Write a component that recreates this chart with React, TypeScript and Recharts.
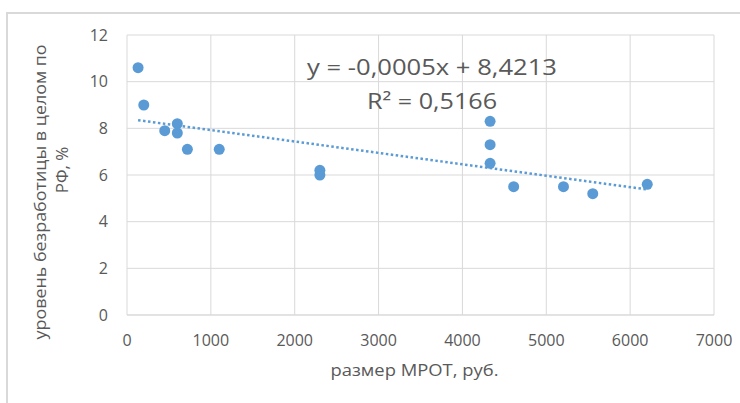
import { ScatterChart, Scatter, XAxis, YAxis, CartesianGrid } from 'recharts';

// размер МРОТ, руб. / уровень безработицы, %
const mrot = [132, 200, 450, 600, 600, 720, 1100, 2300, 2300, 4330, 4330, 4330, 4611, 5205, 5554, 6204];
const unemployment = [10.6, 9.0, 7.9, 8.2, 7.8, 7.1, 7.1, 6.2, 6.0, 8.3, 7.3, 6.5, 5.5, 5.5, 5.2, 5.6];

// линия тренда (концы)
const trendX = [132, 6204];
const trendY = [8.35, 5.38];

const xTicks = [0, 1000, 2000, 3000, 4000, 5000, 6000, 7000];
const yTicks = [0, 2, 4, 6, 8, 10, 12];

const equation = 'y = -0,0005x + 8,4213';
const rSquared = 'R² = 0,5166';

const points = mrot.map((x, i) => ({ x, y: unemployment[i] }));
const trend = trendX.map((x, i) => ({ x, y: trendY[i] }));

const FONT = "'Open Sans', 'Liberation Sans', sans-serif";
const GREY = '#595959';
const BLUE = '#5B9BD5';

const YTitle = (props: any) => {
  const { viewBox } = props;
  const cy = viewBox.y + viewBox.height / 2;
  return (
    <g fill={GREY} fontFamily={FONT} fontSize={17}>
      <text x={0} y={0} transform={`translate(46, ${cy + 17}) rotate(-90)`} textAnchor="middle"
        textLength={295} lengthAdjust="spacingAndGlyphs">
        уровень безработицы в целом по
      </text>
      <text x={0} y={0} transform={`translate(68, ${cy - 5}) rotate(-90)`} textAnchor="middle">
        РФ, %
      </text>
    </g>
  );
};

const XTitle = (props: any) => {
  const { viewBox } = props;
  const cx = viewBox.x + viewBox.width / 2;
  return (
    <text x={cx - 6} y={376} textAnchor="middle" fill={GREY} fontFamily={FONT} fontSize={17}
      textLength={168} lengthAdjust="spacingAndGlyphs">
      размер МРОТ, руб.
    </text>
  );
};

export default function App() {
  return (
    <div style={{ position: 'absolute', left: 0, top: 0, width: 740, height: 403, background: '#fff' }}>
      <div style={{
        position: 'absolute', left: 6, top: 12, right: 0, bottom: 0,
        borderTop: '2px solid #d9d9d9', borderLeft: '2px solid #d9d9d9',
      }} />
      <ScatterChart width={740} height={403} margin={{ top: 35, right: 26, bottom: 0, left: 0 }}
        style={{ position: 'absolute', left: 0, top: 0 }}>
        <CartesianGrid stroke="#d9d9d9" strokeWidth={1} />
        <XAxis type="number" dataKey="x" domain={[0, 7000]} ticks={xTicks} height={88}
          axisLine={{ stroke: '#d9d9d9' }} tickLine={false} tickSize={0} tickMargin={20}
          tick={{ fill: GREY, fontSize: 16, fontFamily: FONT }} interval={0}
          label={<XTitle />} />
        <YAxis type="number" dataKey="y" domain={[0, 12]} ticks={yTicks} width={127}
          axisLine={false} tickLine={false} tickSize={0} tickMargin={19}
          tick={{ fill: GREY, fontSize: 16, fontFamily: FONT }} interval={0}
          label={<YTitle />} />
        <Scatter data={points} fill={BLUE} isAnimationActive={false}
          shape={(p: any) => <circle cx={p.cx} cy={p.cy} r={5.5} fill={BLUE} />} />
        <Scatter data={trend} line={{ stroke: BLUE, strokeWidth: 2.5, strokeDasharray: '2.5 2.5' }}
          shape={() => null} isAnimationActive={false} />
      </ScatterChart>
      <svg width={740} height={403} style={{ position: 'absolute', left: 0, top: 0, pointerEvents: 'none' }}>
        <g fill={GREY} fontFamily={FONT} fontSize={21}>
          <text x={432} y={75} textAnchor="middle" textLength={250} lengthAdjust="spacingAndGlyphs">{equation}</text>
          <text x={432} y={109} textAnchor="middle" textLength={130} lengthAdjust="spacingAndGlyphs">{rSquared}</text>
        </g>
      </svg>
    </div>
  );
}
